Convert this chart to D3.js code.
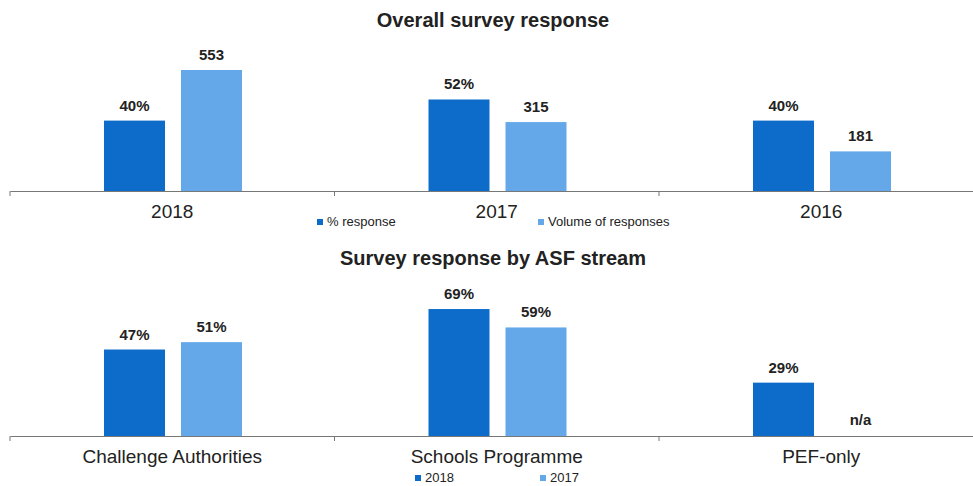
<!DOCTYPE html>
<html>
<head>
<meta charset="utf-8">
<script src="https://cdn.jsdelivr.net/npm/d3@7"></script>
<style>
  html, body { margin: 0; padding: 0; background: #fff; }
  svg { display: block; font-family: "Liberation Sans", Arial, sans-serif; }
</style>
</head>
<body>
<div id="chart"></div>
<script>
// Data.
const overallCategories = ["2018", "2017", "2016"];
const overallPct = [40, 52, 40];
const overallVolume = [553, 315, 181];
const overallSeries = ["% response", "Volume of responses"];

const streamCategories = ["Challenge Authorities", "Schools Programme", "PEF-only"];
const stream2018 = [47, 69, 29];
const stream2017 = [51, 59, null];
const streamSeries = ["2018", "2017"];

const width = 973;
const height = 486;
const dark = "#0d6cc9";
const light = "#64a8ea";
const textColor = "#222";

const svg = d3.select("#chart")
  .append("svg")
  .attr("width", width)
  .attr("height", height);

// Draws one panel: title, bars, value labels, axis and legend.
function panel(opts) {
  const { title, titleY, categories, values, scales, labels, baseline, legend, legendY, legendX } = opts;

  svg.append("text")
    .attr("x", 493)
    .attr("y", titleY)
    .attr("text-anchor", "middle")
    .attr("font-size", 20)
    .attr("font-weight", "bold")
    .attr("fill", textColor)
    .text(title);

  const x0 = d3.scaleBand()
    .domain(categories)
    .range([10, 10 + 324.5 * categories.length]);

  const x1 = d3.scaleBand()
    .domain([0, 1])
    .range([94, 232])
    .paddingInner(16 / 77);

  // Axis line with labels, ticks sit at band boundaries.
  const axis = svg.append("g")
    .attr("transform", `translate(0, ${baseline})`)
    .call(d3.axisBottom(x0).tickSize(0).tickPadding(14).tickSizeOuter(0));
  axis.select(".domain").attr("stroke", "#777");
  axis.selectAll(".tick text")
    .attr("font-size", 19)
    .attr("fill", textColor)
    .attr("font-family", "Liberation Sans, Arial, sans-serif");

  svg.append("g")
    .selectAll("line")
    .data(categories.map((c) => x0(c)).concat([x0.range()[1]]))
    .join("line")
    .attr("x1", (d) => d)
    .attr("x2", (d) => d)
    .attr("y1", baseline)
    .attr("y2", baseline + 5)
    .attr("stroke", "#777");

  const colors = [dark, light];

  values.forEach((series, si) => {
    const y = scales[si];
    const g = svg.append("g");
    categories.forEach((c, i) => {
      const v = series[i];
      const bx = x0(c) + x1(si);
      if (v == null) {
        g.append("text")
          .attr("x", bx + x1.bandwidth() / 2)
          .attr("y", baseline - 11)
          .attr("text-anchor", "middle")
          .attr("font-size", 15)
          .attr("font-weight", "bold")
          .attr("fill", textColor)
          .text("n/a");
        return;
      }
      g.append("rect")
        .attr("x", bx)
        .attr("y", y(v))
        .attr("width", x1.bandwidth())
        .attr("height", baseline - y(v))
        .attr("fill", colors[si]);
      g.append("text")
        .attr("x", bx + x1.bandwidth() / 2)
        .attr("y", y(v) - 10)
        .attr("text-anchor", "middle")
        .attr("font-size", 15)
        .attr("font-weight", "bold")
        .attr("fill", textColor)
        .text(labels[si](v));
    });
  });

  // Legend.
  legend.forEach((name, i) => {
    const lx = legendX[i];
    svg.append("rect")
      .attr("x", lx)
      .attr("y", legendY - 7)
      .attr("width", 6)
      .attr("height", 6)
      .attr("fill", colors[i]);
    svg.append("text")
      .attr("x", lx + 10)
      .attr("y", legendY)
      .attr("font-size", opts.legendSize)
      .attr("fill", textColor)
      .text(name);
  });
}

// Top panel: percent and volume use separate scales.
const topBase = 191;
const yPct = d3.scaleLinear().domain([0, 100]).range([topBase, topBase - 176]);
const yVol = d3.scaleLinear().domain([0, 553]).range([topBase, topBase - 121]);

panel({
  title: "Overall survey response",
  titleY: 27,
  categories: overallCategories,
  values: [overallPct, overallVolume],
  scales: [yPct, yVol],
  labels: [(v) => v + "%", (v) => String(v)],
  baseline: topBase,
  legend: overallSeries,
  legendX: [317, 538],
  legendY: 226,
  legendSize: 13
});

// Bottom panel.
const botBase = 436;
const yStream = d3.scaleLinear().domain([0, 100]).range([botBase, botBase - 184]);

panel({
  title: "Survey response by ASF stream",
  titleY: 265,
  categories: streamCategories,
  values: [stream2018, stream2017],
  scales: [yStream, yStream],
  labels: [(v) => v + "%", (v) => v + "%"],
  baseline: botBase,
  legend: streamSeries,
  legendX: [415, 540],
  legendY: 482,
  legendSize: 13
});
</script>
</body>
</html>
